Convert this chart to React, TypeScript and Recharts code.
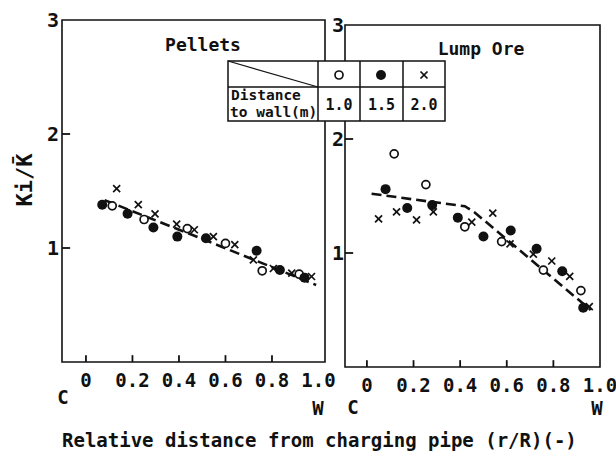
import React from "react";
import {
  ComposedChart, Scatter, Line, XAxis, YAxis, ReferenceArea, ReferenceLine,
} from "recharts";

// Pellets (left panel)
const pelletsOpen = [
  { x: 0.113, y: 1.37 }, { x: 0.25, y: 1.25 }, { x: 0.436, y: 1.17 },
  { x: 0.6, y: 1.04 }, { x: 0.758, y: 0.8 }, { x: 0.917, y: 0.77 },
];
const pelletsFilled = [
  { x: 0.07, y: 1.38 }, { x: 0.179, y: 1.3 }, { x: 0.29, y: 1.18 },
  { x: 0.393, y: 1.1 }, { x: 0.516, y: 1.085 }, { x: 0.734, y: 0.976 },
  { x: 0.834, y: 0.807 }, { x: 0.94, y: 0.74 },
];
const pelletsCross = [
  { x: 0.132, y: 1.52 }, { x: 0.225, y: 1.38 }, { x: 0.297, y: 1.3 },
  { x: 0.39, y: 1.21 }, { x: 0.466, y: 1.16 }, { x: 0.548, y: 1.1 },
  { x: 0.64, y: 1.03 }, { x: 0.72, y: 0.895 }, { x: 0.806, y: 0.82 },
  { x: 0.885, y: 0.78 }, { x: 0.97, y: 0.75 },
];
const pelletsFit = [
  { x: 0.08, y: 1.42 }, { x: 0.5, y: 1.08 }, { x: 0.99, y: 0.675 },
];

// Lump ore (right panel)
const lumpOpen = [
  { x: 0.117, y: 1.87 }, { x: 0.253, y: 1.6 }, { x: 0.42, y: 1.23 },
  { x: 0.578, y: 1.1 }, { x: 0.757, y: 0.85 }, { x: 0.918, y: 0.67 },
];
const lumpFilled = [
  { x: 0.08, y: 1.56 }, { x: 0.173, y: 1.395 }, { x: 0.28, y: 1.42 },
  { x: 0.39, y: 1.31 }, { x: 0.5, y: 1.144 }, { x: 0.617, y: 1.197 },
  { x: 0.728, y: 1.037 }, { x: 0.838, y: 0.84 }, { x: 0.928, y: 0.52 },
];
const lumpCross = [
  { x: 0.05, y: 1.3 }, { x: 0.127, y: 1.36 }, { x: 0.213, y: 1.29 },
  { x: 0.285, y: 1.36 }, { x: 0.45, y: 1.27 }, { x: 0.54, y: 1.35 },
  { x: 0.614, y: 1.08 }, { x: 0.714, y: 0.99 }, { x: 0.793, y: 0.93 },
  { x: 0.87, y: 0.795 }, { x: 0.954, y: 0.53 },
];
const lumpFit = [
  { x: 0.02, y: 1.52 }, { x: 0.2, y: 1.47 }, { x: 0.42, y: 1.41 },
  { x: 0.46, y: 1.36 }, { x: 0.96, y: 0.5 },
];

const xTicks = [0, 0.2, 0.4, 0.6, 0.8, 1.0];
const yTicks = [1, 2, 3];
const legendValues = ["1.0", "1.5", "2.0"];

const INK = "#111";
const FONT = "'DejaVu Sans Mono', monospace";

const OpenDot = (p: any) => (
  <circle cx={p.cx} cy={p.cy} r={4} fill="#fff" stroke={INK} strokeWidth={1.7} />
);
const FilledDot = (p: any) => <circle cx={p.cx} cy={p.cy} r={5} fill={INK} />;
const CrossDot = (p: any) => (
  <g stroke={INK} strokeWidth={1.7}>
    <line x1={p.cx - 3.5} y1={p.cy - 3.5} x2={p.cx + 3.5} y2={p.cy + 3.5} />
    <line x1={p.cx - 3.5} y1={p.cy + 3.5} x2={p.cx + 3.5} y2={p.cy - 3.5} />
  </g>
);

const makeYTick = (gap: number) => (p: any) => (
  <text key={p.index} x={p.x - gap} y={p.y + 7} textAnchor="end" fontSize={20}
    fontWeight="bold" fontFamily={FONT} fill={INK}>
    {p.payload.value}
  </text>
);

const renderXTick = (p: any) => (
  <text key={p.index} x={p.x} y={p.y + 25} textAnchor="middle" fontSize={19}
    fontWeight="bold" fontFamily={FONT} fill={INK}>
    {p.payload.value === 0 ? "0" : p.payload.value.toFixed(1)}
  </text>
);

function Panel({ domainX, margin, gap, open, filled, cross, fit }: any) {
  const stubX = 0.035;
  return (
    <div style={{ position: "absolute", left: 0, top: 0 }}>
      <ComposedChart width={616} height={456} margin={margin}>
        <XAxis
          type="number" dataKey="x" domain={domainX} ticks={xTicks} height={30}
          axisLine={false} tickLine={false} tickSize={0} tickMargin={0}
          tick={renderXTick} allowDataOverflow interval={0}
        />
        <YAxis
          type="number" dataKey="y" domain={[0, 3]} ticks={yTicks} width={30}
          axisLine={false} tickLine={false} tickSize={0} tickMargin={0}
          tick={makeYTick(gap)} allowDataOverflow interval={0}
        />
        <ReferenceArea
          x1={domainX[0]} x2={domainX[1]} y1={0} y2={3}
          fill="none" stroke={INK} strokeWidth={1.6}
        />
        {/* inward tick stubs */}
        {yTicks.slice(0, 2).map((v) => (
          <ReferenceLine key={"y" + v} stroke={INK} strokeWidth={1.8} ifOverflow="visible"
            segment={[{ x: domainX[0], y: v }, { x: domainX[0] + stubX, y: v }]} />
        ))}
        {xTicks.slice(0, 5).map((v) => (
          <ReferenceLine key={"x" + v} stroke={INK} strokeWidth={1.8} ifOverflow="visible"
            segment={[{ x: v, y: 0 }, { x: v, y: 0.06 }]} />
        ))}
        <Line
          data={fit} dataKey="y" type="linear" stroke={INK} strokeWidth={2.6}
          strokeDasharray="10 5" dot={false} isAnimationActive={false}
        />
        <Scatter data={open} dataKey="y" shape={OpenDot} isAnimationActive={false} />
        <Scatter data={filled} dataKey="y" shape={FilledDot} isAnimationActive={false} />
        <Scatter data={cross} dataKey="y" shape={CrossDot} isAnimationActive={false} />
      </ComposedChart>
    </div>
  );
}

function LegendTable() {
  const x0 = 228, x1 = 318, y0 = 61, y1 = 87, y2 = 121;
  const cols = [318, 360, 403, 445];
  return (
    <g>
      <rect x={x0} y={y0} width={445 - x0} height={y2 - y0} fill="#fff" stroke={INK} strokeWidth={1.5} />
      <line x1={x0} y1={y1} x2={445} y2={y1} stroke={INK} strokeWidth={1.5} />
      {cols.slice(0, 3).map((c) => (
        <line key={c} x1={c} y1={y0} x2={c} y2={y2} stroke={INK} strokeWidth={1.5} />
      ))}
      <line x1={x0} y1={y0} x2={x1} y2={y1} stroke={INK} strokeWidth={1.2} />
      <OpenDot cx={339} cy={75} />
      <FilledDot cx={381} cy={75} />
      <CrossDot cx={424} cy={75} />
      <text x={231} y={100} fontSize={14.5} fontWeight="bold" fontFamily={FONT} fill={INK}>Distance</text>
      <text x={230} y={117} fontSize={14.5} fontWeight="bold" fontFamily={FONT} fill={INK}>to wall(m)</text>
      {legendValues.map((v, i) => (
        <text key={v} x={(cols[i] + cols[i + 1]) / 2} y={110} textAnchor="middle"
          fontSize={15} fontWeight="bold" fontFamily={FONT} fill={INK}>{v}</text>
      ))}
    </g>
  );
}

const label = { fontFamily: FONT, fontWeight: "bold" as const, fill: INK };

export default function App() {
  return (
    <div style={{ position: "absolute", left: 0, top: 0, width: 616, height: 456, background: "#fff" }}>
      <Panel
        domainX={[-0.103, 1.028]} gap={3}
        margin={{ top: 20, left: 32, right: 291, bottom: 64 }}
        open={pelletsOpen} filled={pelletsFilled} cross={pelletsCross} fit={pelletsFit}
      />
      <Panel
        domainX={[-0.094, 1.0]} gap={1}
        margin={{ top: 25, left: 315, right: 16, bottom: 59 }}
        open={lumpOpen} filled={lumpFilled} cross={lumpCross} fit={lumpFit}
      />
      <svg width={616} height={456} style={{ position: "absolute", left: 0, top: 0 }}>
        <text x={203} y={51} textAnchor="middle" fontSize={18} {...label}>Pellets</text>
        <text x={481} y={55} textAnchor="middle" fontSize={18} {...label}>Lump Ore</text>
        <LegendTable />
        <text x={0} y={0} transform="translate(32,180) rotate(-90)" textAnchor="middle"
          fontSize={22} {...label}>Ki/K̄</text>
        <text x={63} y={404} textAnchor="middle" fontSize={19} {...label}>C</text>
        <text x={318} y={415} textAnchor="middle" fontSize={19} {...label}>W</text>
        <text x={353} y={414} textAnchor="middle" fontSize={19} {...label}>C</text>
        <text x={597} y={415} textAnchor="middle" fontSize={19} {...label}>W</text>
        <text x={62} y={447} fontSize={19} {...label}>
          Relative distance from charging pipe (r/R)(-)
        </text>
      </svg>
    </div>
  );
}
